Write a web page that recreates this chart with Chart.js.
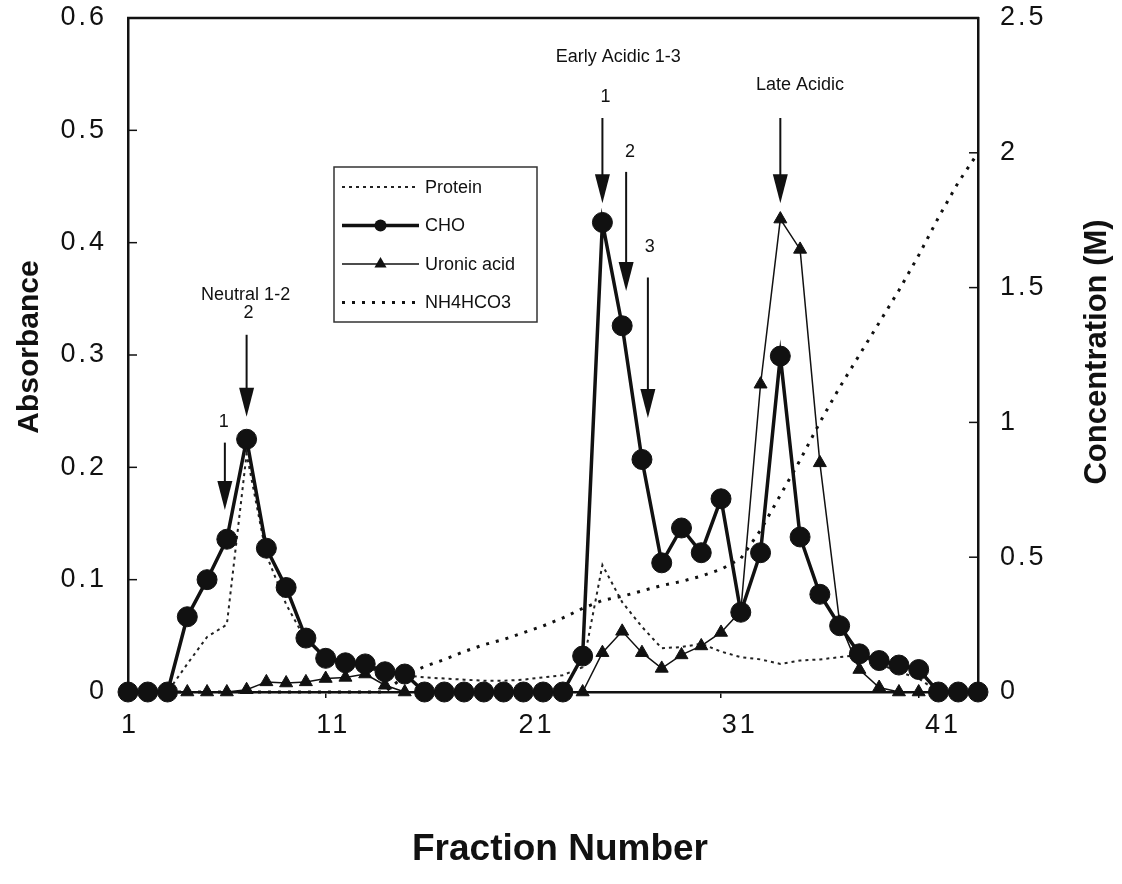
<!DOCTYPE html>
<html>
<head>
<meta charset="utf-8">
<title>Fraction elution profile</title>
<script src="https://cdn.jsdelivr.net/npm/chart.js@4.4.1/dist/chart.umd.min.js"></script>
<style>
  html, body { margin: 0; padding: 0; background: #fff; }
  #elution { display: block; }
</style>
</head>
<body>
<canvas id="elution" width="1122" height="884"></canvas>
<script>
(function (window, document) {
    const fractions = [1, 2, 3, 4, 5, 6, 7, 8, 9, 10, 11, 12, 13, 14, 15, 16, 17, 18, 19, 20, 21, 22,
        23, 24, 25, 26, 27, 28, 29, 30, 31, 32, 33, 34, 35, 36, 37, 38, 39, 40, 41, 42, 43, 44];

    // absorbance (left axis)
    const protein = [0, 0, 0, 0.025, 0.049, 0.060, 0.212, 0.122, 0.078, 0.046, 0.031, 0.025, 0.021, 0.018,
        0.015, 0.013, 0.012, 0.011, 0.010, 0.010, 0.011, 0.013, 0.015, 0.022, 0.113, 0.080, 0.058, 0.039,
        0.040, 0.043, 0.036, 0.031, 0.029, 0.025, 0.028, 0.029, 0.031, 0.033, 0.025, 0.018, 0.012, 0, 0, 0];
    const cho = [0, 0, 0, 0.067, 0.100, 0.136, 0.225, 0.128, 0.093, 0.048, 0.030, 0.026, 0.025, 0.018,
        0.016, 0, 0, 0, 0, 0, 0, 0, 0, 0.032, 0.418, 0.326, 0.207, 0.115, 0.146, 0.124, 0.172, 0.071,
        0.124, 0.299, 0.138, 0.087, 0.059, 0.034, 0.028, 0.024, 0.020, 0, 0, 0];
    const uronicAcid = [0, 0, 0, 0, 0, 0, 0.002, 0.009, 0.008, 0.009, 0.012, 0.013, 0.016, 0.006,
        0, 0, 0, 0, 0, 0, 0, 0, 0, 0, 0.035, 0.054, 0.035, 0.021, 0.033, 0.041, 0.053, 0.072,
        0.274, 0.421, 0.394, 0.204, 0.062, 0.020, 0.004, 0, 0, 0, 0, 0];

    // NH4HCO3 gradient, molar (right axis)
    const nh4hco3 = [0, 0, 0, 0, 0, 0, 0, 0, 0, 0, 0, 0, 0, 0, 0.06, 0.095, 0.12, 0.15, 0.175, 0.195,
        0.22, 0.245, 0.275, 0.31, 0.34, 0.355, 0.375, 0.395, 0.41, 0.43, 0.455, 0.495, 0.60, 0.73,
        0.86, 1.0, 1.13, 1.25, 1.37, 1.49, 1.62, 1.76, 1.89, 2.0];

    const fractionTicks = [1, 11, 21, 31, 41];
    const absorbanceTicks = [0, 0.1, 0.2, 0.3, 0.4, 0.5, 0.6];
    const concentrationTicks = [0, 0.5, 1, 1.5, 2, 2.5];

    // peak arrows: fraction, shaft top, arrow tip (absorbance)
    const arrowFraction = [5.9, 7, 25, 26.2, 27.3, 34];
    const arrowTop = [0.222, 0.318, 0.511, 0.463, 0.369, 0.511];
    const arrowTip = [0.162, 0.245, 0.435, 0.357, 0.244, 0.435];

    const peakNotes = [
        { text: '1', x: 5.85, y: 0.240 },
        { text: '2', x: 7.1, y: 0.337 },
        { text: 'Neutral 1-2', x: 6.95, y: 0.353 },
        { text: '1', x: 25.15, y: 0.530 },
        { text: '2', x: 26.4, y: 0.481 },
        { text: '3', x: 27.4, y: 0.396 },
        { text: 'Early Acidic 1-3', x: 25.8, y: 0.565 },
        { text: 'Late Acidic', x: 35.0, y: 0.540 }
    ];

    const FONT = "'Liberation Sans', Arial, Helvetica, sans-serif";
    const TICK_FONT = { family: FONT, size: 27 };

    function points(values) {
        return values.map((v, i) => ({ x: fractions[i], y: v }));
    }

    // fixed box size, and no extra room for overhanging tick labels
    function fixSize(prop, size) {
        return function (scale) {
            scale[prop] = size;
            scale.paddingTop = 0;
            scale.paddingBottom = 0;
            scale.paddingLeft = 0;
            scale.paddingRight = 0;
        };
    }

    function useTicks(values) {
        return function (scale) { scale.ticks = values.map(v => ({ value: v })); };
    }

    function drawMarker(ctx, style, x, y, r) {
        ctx.beginPath();
        if (style === 'circle') {
            ctx.arc(x, y, r, 0, Math.PI * 2);
        } else if (style === 'triangle') {
            ctx.moveTo(x, y - r);
            ctx.lineTo(x + r * 0.866, y + r * 0.5);
            ctx.lineTo(x - r * 0.866, y + r * 0.5);
            ctx.closePath();
        }
        ctx.fill();
    }

    const framePlugin = {
        id: 'frame',
        beforeDraw(chart) {
            // wide-set tick numbers
            chart.ctx.letterSpacing = '3px';
        },
        beforeDatasetsDraw(chart) {
            const ctx = chart.ctx;
            const a = chart.chartArea;
            const yl = chart.scales.y;
            const yr = chart.scales.y2;
            ctx.letterSpacing = '0px';
            ctx.save();
            ctx.strokeStyle = '#111';
            ctx.lineWidth = 2.5;
            ctx.beginPath();
            ctx.moveTo(a.left - 1, a.top);
            ctx.lineTo(a.right + 1, a.top);
            ctx.stroke();

            // inward tick marks on both value axes
            ctx.lineWidth = 1.5;
            absorbanceTicks.slice(1, -1).forEach(v => {
                const py = yl.getPixelForValue(v);
                ctx.beginPath();
                ctx.moveTo(a.left, py);
                ctx.lineTo(a.left + 9, py);
                ctx.stroke();
            });
            concentrationTicks.slice(1, -1).forEach(v => {
                const py = yr.getPixelForValue(v);
                ctx.beginPath();
                ctx.moveTo(a.right, py);
                ctx.lineTo(a.right - 9, py);
                ctx.stroke();
            });
            ctx.restore();
        }
    };

    const notesPlugin = {
        id: 'notes',
        afterDatasetsDraw(chart) {
            const ctx = chart.ctx;
            const a = chart.chartArea;
            const xs = chart.scales.x;
            const ys = chart.scales.y;
            ctx.save();
            ctx.fillStyle = '#111';
            ctx.strokeStyle = '#111';

            // peak arrows
            arrowFraction.forEach((f, i) => {
                const px = xs.getPixelForValue(f);
                const top = ys.getPixelForValue(arrowTop[i]);
                const tip = ys.getPixelForValue(arrowTip[i]);
                const headLen = 29;
                ctx.lineWidth = 2;
                ctx.beginPath();
                ctx.moveTo(px, top);
                ctx.lineTo(px, tip - headLen + 2);
                ctx.stroke();
                ctx.beginPath();
                ctx.moveTo(px, tip);
                ctx.lineTo(px - 7.5, tip - headLen);
                ctx.lineTo(px + 7.5, tip - headLen);
                ctx.closePath();
                ctx.fill();
            });

            ctx.font = '18px ' + FONT;
            ctx.textAlign = 'center';
            ctx.textBaseline = 'middle';
            peakNotes.forEach(n => {
                ctx.fillText(n.text, xs.getPixelForValue(n.x), ys.getPixelForValue(n.y));
            });

            // legend box inside the plot
            const lx = a.left + 206;
            const ly = a.top + 149;
            const lw = 203;
            const lh = 155;
            ctx.fillStyle = '#fff';
            ctx.fillRect(lx, ly, lw, lh);
            ctx.lineWidth = 1.5;
            ctx.strokeStyle = '#333';
            ctx.strokeRect(lx, ly, lw, lh);
            ctx.font = '18px ' + FONT;
            ctx.textAlign = 'left';
            chart.data.datasets.forEach((ds, row) => {
                const cy = ly + 20 + row * 38.5;
                const x0 = lx + 8;
                const x1 = lx + 85;
                ctx.save();
                ctx.strokeStyle = ds.borderColor;
                ctx.lineWidth = ds.borderWidth;
                ctx.setLineDash(ds.borderDash || []);
                ctx.beginPath();
                ctx.moveTo(x0, cy);
                ctx.lineTo(x1, cy);
                ctx.stroke();
                ctx.restore();
                if (ds.pointRadius > 0) {
                    ctx.fillStyle = ds.pointBackgroundColor;
                    drawMarker(ctx, ds.pointStyle, (x0 + x1) / 2, cy, ds.pointStyle === 'circle' ? 6 : 7);
                }
                ctx.fillStyle = '#111';
                ctx.fillText(ds.label, x1 + 6, cy + 1);
            });

            // axis titles
            ctx.textAlign = 'center';
            ctx.textBaseline = 'middle';
            ctx.font = 'bold 30px ' + FONT;
            ctx.save();
            ctx.translate(30, 347);
            ctx.rotate(-Math.PI / 2);
            ctx.fillText('Absorbance', 0, 0);
            ctx.restore();
            ctx.font = 'bold 31px ' + FONT;
            ctx.save();
            ctx.translate(1097, 352);
            ctx.rotate(-Math.PI / 2);
            ctx.fillText('Concentration (M)', 0, 0);
            ctx.restore();
            ctx.font = 'bold 37px ' + FONT;
            ctx.fillText('Fraction Number', 560, 850);
            ctx.restore();
        }
    };

    document.addEventListener('DOMContentLoaded', function () {
        new Chart(document.getElementById('elution'), {
            type: 'line',
            data: {
                datasets: [{
                    label: 'Protein',
                    data: points(protein),
                    yAxisID: 'y',
                    borderColor: '#222',
                    borderWidth: 2,
                    borderDash: [3, 4],
                    pointRadius: 0,
                    order: 2
                }, {
                    label: 'CHO',
                    data: points(cho),
                    yAxisID: 'y',
                    borderColor: '#111',
                    borderWidth: 3.5,
                    pointStyle: 'circle',
                    pointRadius: 10,
                    pointBackgroundColor: '#111',
                    pointBorderColor: '#111',
                    pointBorderWidth: 1,
                    order: 0
                }, {
                    label: 'Uronic acid',
                    data: points(uronicAcid),
                    yAxisID: 'y',
                    borderColor: '#111',
                    borderWidth: 1.5,
                    pointStyle: 'triangle',
                    pointRadius: 7.5,
                    pointBackgroundColor: '#111',
                    pointBorderColor: '#111',
                    pointBorderWidth: 1,
                    order: 1
                }, {
                    label: 'NH4HCO3',
                    data: points(nh4hco3),
                    yAxisID: 'y2',
                    borderColor: '#111',
                    borderWidth: 3,
                    borderDash: [3, 7],
                    pointRadius: 0,
                    order: 3
                }]
            },
            options: {
                responsive: false,
                animation: false,
                devicePixelRatio: 1,
                layout: { padding: { top: 18, left: 0, right: 0, bottom: 0 } },
                datasets: { line: { tension: 0, clip: false } },
                plugins: {
                    legend: { display: false },
                    tooltip: { enabled: false }
                },
                scales: {
                    // data axis: fraction positions and tick marks
                    x: {
                        type: 'linear',
                        position: 'bottom',
                        weight: 0,
                        min: 1,
                        max: 44,
                        afterFit: fixSize('height', 6),
                        afterBuildTicks: useTicks(fractionTicks),
                        grid: { display: true, drawOnChartArea: false, drawTicks: true, tickLength: 6, color: '#111', lineWidth: 1.5 },
                        border: { display: true, color: '#111', width: 2.5 },
                        ticks: { display: false }
                    },
                    // fraction numbers, set slightly wider than the tick marks
                    xl: {
                        type: 'linear',
                        position: 'bottom',
                        weight: 1,
                        min: 0.9016,
                        max: 42.72,
                        afterFit: fixSize('height', 186),
                        afterBuildTicks: useTicks(fractionTicks),
                        grid: { display: false, drawTicks: false },
                        border: { display: false },
                        ticks: { color: '#111', padding: 11, maxRotation: 0, font: TICK_FONT }
                    },
                    y: {
                        position: 'left',
                        min: 0,
                        max: 0.6,
                        afterFit: fixSize('width', 128),
                        afterBuildTicks: useTicks(absorbanceTicks),
                        grid: { display: false, drawTicks: false },
                        border: { display: true, color: '#111', width: 2.5 },
                        ticks: { color: '#111', padding: 21, font: TICK_FONT, callback: v => String(v) }
                    },
                    y2: {
                        position: 'right',
                        min: 0,
                        max: 2.5,
                        afterFit: fixSize('width', 144),
                        afterBuildTicks: useTicks(concentrationTicks),
                        grid: { display: false, drawTicks: false },
                        border: { display: true, color: '#111', width: 2.5 },
                        ticks: { color: '#111', padding: 22, font: TICK_FONT, callback: v => String(v) }
                    }
                }
            },
            plugins: [framePlugin, notesPlugin]
        });
    });
})(window, document);
</script>
</body>
</html>
